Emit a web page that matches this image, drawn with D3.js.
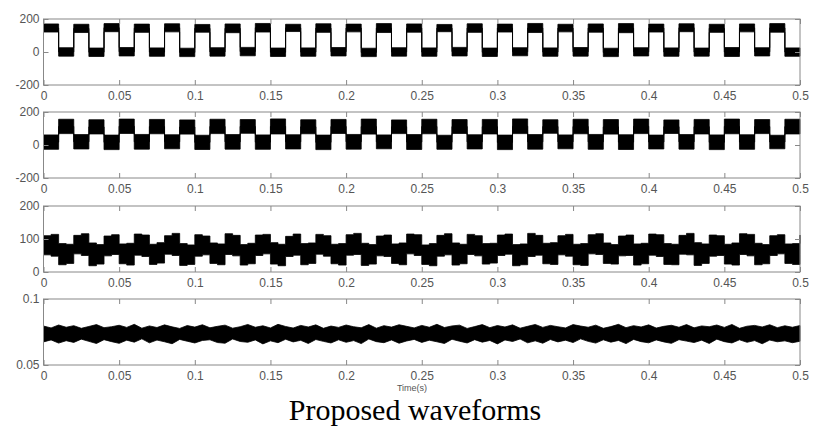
<!DOCTYPE html>
<html>
<head>
<meta charset="utf-8">
<script src="https://cdn.jsdelivr.net/npm/d3@7"></script>
<style>
  body { margin: 0; background: #fff; }
  svg { display: block; background: #fff; }
  .tick text { font-family: "Liberation Sans", Arial, sans-serif; font-size: 12px; fill: #555; }
  .tick line { stroke: #888; }
</style>
</head>
<body>
<svg id="chart" width="814" height="433"></svg>
<script>
// Axis ticks
const xTicks = [0, 0.05, 0.1, 0.15, 0.2, 0.25, 0.3, 0.35, 0.4, 0.45, 0.5];
const yTicks1 = [-200, 0, 200];
const yTicks2 = [-200, 0, 200];
const yTicks3 = [0, 100, 200];
const yTicks4 = [0.05, 0.1];

// Time step of the sampled envelopes (s)
const halfPeriod = 0.01;   // plots 1 and 2: one band per half period
const sampleStep = 0.005;  // plots 3 and 4

// Plot 1: upper / lower edge of the band in each half period (high first)
const wave1Top = [
  170, 26, 168, 24, 172, 27, 169, 25, 171, 23, 167, 26, 170, 28, 173, 24, 168, 25, 171, 27,
  169, 23, 172, 26, 170, 25, 167, 28, 171, 24, 169, 26, 173, 25, 168, 27, 170, 23, 172, 26,
  169, 25, 171, 24, 168, 27, 170, 26, 172, 25
];
const wave1Bottom = [
  121, -25, 118, -27, 123, -24, 119, -26, 122, -28, 120, -25, 117, -23, 121, -27, 124, -26, 119, -24,
  122, -28, 118, -25, 120, -26, 123, -24, 119, -27, 121, -23, 118, -26, 122, -25, 120, -28, 117, -24,
  121, -26, 123, -25, 119, -27, 122, -24, 120, -26, 118, -25
];

// Plot 2: same, low level first
const wave2Top = [
  61, 156, 63, 153, 60, 157, 64, 155, 62, 152, 59, 156, 63, 154, 61, 158, 62, 153, 60, 155,
  64, 157, 61, 152, 63, 156, 59, 154, 62, 155, 60, 158, 63, 153, 61, 156, 64, 154, 62, 157,
  60, 152, 63, 155, 61, 157, 62, 154, 59, 156
];
const wave2Bottom = [
  -26, 69, -24, 67, -28, 70, -25, 68, -23, 66, -27, 69, -25, 71, -26, 67, -24, 68, -28, 70,
  -25, 66, -23, 69, -27, 68, -26, 70, -24, 67, -28, 69, -25, 71, -23, 68, -26, 66, -27, 69,
  -24, 70, -25, 67, -28, 68, -26, 69, -23, 67
];

// Plot 3: envelope every 5 ms
const wave3Top = [
  110, 114, 86, 84, 111, 116, 88, 83, 109, 113, 85, 87, 115, 112, 84, 89, 110, 117, 86, 82,
  113, 109, 88, 85, 116, 111, 83, 87, 112, 114, 89, 84, 108, 115, 86, 88, 114, 110, 84, 86,
  113, 117, 87, 83, 109, 112, 85, 88, 115, 113, 82, 86, 111, 116, 88, 84, 114, 110, 86, 87,
  112, 115, 83, 85, 117, 111, 87, 89, 110, 114, 84, 86, 113, 116, 88, 83, 109, 112, 85, 87,
  115, 113, 86, 84, 111, 117, 89, 85, 112, 110, 84, 88, 116, 114, 87, 83, 110, 113, 85, 86,
  112
];
const wave3Bottom = [
  52, 48, 22, 26, 55, 50, 19, 24, 49, 53, 25, 21, 51, 47, 23, 27, 54, 50, 20, 23,
  48, 52, 26, 22, 53, 49, 21, 25, 50, 55, 24, 19, 47, 51, 22, 26, 54, 48, 25, 21,
  51, 53, 20, 24, 49, 47, 26, 22, 55, 50, 23, 19, 48, 52, 21, 25, 53, 49, 24, 27,
  50, 54, 19, 22, 47, 51, 25, 23, 52, 48, 22, 20, 55, 53, 26, 24, 49, 50, 21, 25,
  51, 47, 23, 22, 54, 52, 20, 26, 48, 50, 24, 21, 53, 49, 22, 25, 50, 55, 26, 23,
  52
];

// Plot 4: envelope every 5 ms
const wave4Top = [
  0.0795, 0.0781, 0.0803, 0.0786, 0.0798, 0.0778, 0.0792, 0.0806, 0.0783, 0.0790,
  0.0801, 0.0785, 0.0808, 0.0779, 0.0796, 0.0784, 0.0804, 0.0789, 0.0777, 0.0799,
  0.0787, 0.0805, 0.0782, 0.0793, 0.0802, 0.0779, 0.0790, 0.0807, 0.0786, 0.0797,
  0.0781, 0.0808, 0.0792, 0.0780, 0.0800, 0.0788, 0.0804, 0.0778, 0.0795, 0.0785,
  0.0803, 0.0790, 0.0782, 0.0806, 0.0779, 0.0798, 0.0787, 0.0805, 0.0793, 0.0781,
  0.0800, 0.0786, 0.0808, 0.0784, 0.0796, 0.0802, 0.0777, 0.0791, 0.0806, 0.0783,
  0.0799, 0.0788, 0.0804, 0.0779, 0.0793, 0.0807, 0.0785, 0.0800, 0.0790, 0.0781,
  0.0806, 0.0795, 0.0786, 0.0802, 0.0778, 0.0791, 0.0808, 0.0783, 0.0798, 0.0788,
  0.0804, 0.0780, 0.0793, 0.0801, 0.0786, 0.0806, 0.0782, 0.0796, 0.0790, 0.0803,
  0.0785, 0.0807, 0.0778, 0.0794, 0.0800, 0.0788, 0.0805, 0.0783, 0.0797, 0.0786,
  0.0799
];
const wave4Bottom = [
  0.0675, 0.0690, 0.0666, 0.0684, 0.0671, 0.0696, 0.0679, 0.0663, 0.0692, 0.0677,
  0.0664, 0.0688, 0.0673, 0.0698, 0.0668, 0.0689, 0.0676, 0.0661, 0.0694, 0.0680,
  0.0667, 0.0686, 0.0691, 0.0670, 0.0665, 0.0697, 0.0678, 0.0672, 0.0690, 0.0660,
  0.0683, 0.0669, 0.0695, 0.0675, 0.0687, 0.0663, 0.0693, 0.0679, 0.0667, 0.0691,
  0.0672, 0.0685, 0.0662, 0.0697, 0.0677, 0.0669, 0.0690, 0.0665, 0.0682, 0.0694,
  0.0671, 0.0688, 0.0676, 0.0663, 0.0695, 0.0680, 0.0667, 0.0692, 0.0673, 0.0686,
  0.0660, 0.0690, 0.0678, 0.0697, 0.0668, 0.0683, 0.0665, 0.0693, 0.0675, 0.0688,
  0.0670, 0.0698, 0.0679, 0.0666, 0.0691, 0.0673, 0.0686, 0.0662, 0.0694, 0.0677,
  0.0668, 0.0690, 0.0675, 0.0664, 0.0692, 0.0681, 0.0670, 0.0688, 0.0663, 0.0696,
  0.0677, 0.0667, 0.0691, 0.0672, 0.0685, 0.0661, 0.0689, 0.0676, 0.0683, 0.0669,
  0.0680
];

const xLabel = "Time(s)";
const title = "Proposed waveforms";

// SVG setup
const svg = d3.select("#chart");
const plotLeft = 43.5, plotRight = 800;
const panelTops = [19, 112, 206, 299];
const panelH = 66;
const tick = 5;

const x = d3.scaleLinear().domain([0, 0.5]).range([plotLeft, plotRight]);

// build {t, hi, lo} points from an envelope pair
function toPoints(top, bottom, dt, closeEnd) {
  const pts = top.map((v, i) => ({ t: i * dt, hi: v, lo: bottom[i] }));
  if (closeEnd) {
    const last = pts[pts.length - 1];
    pts.push({ t: top.length * dt, hi: last.hi, lo: last.lo });
  }
  return pts;
}

const panels = [
  { yTicks: yTicks1, pts: toPoints(wave1Top, wave1Bottom, halfPeriod, true), curve: d3.curveStepAfter, link: true },
  { yTicks: yTicks2, pts: toPoints(wave2Top, wave2Bottom, halfPeriod, true), curve: d3.curveStepAfter, link: true },
  { yTicks: yTicks3, pts: toPoints(wave3Top, wave3Bottom, sampleStep, false), curve: d3.curveStepAfter, link: false },
  { yTicks: yTicks4, pts: toPoints(wave4Top, wave4Bottom, sampleStep, false), curve: d3.curveLinear, link: false }
];

panels.forEach((p, k) => {
  const top = panelTops[k];
  const bottom = top + panelH;
  const y = d3.scaleLinear().domain(d3.extent(p.yTicks)).range([bottom, top]);
  const g = svg.append("g");

  // waveform band
  g.append("path")
    .datum(p.pts)
    .attr("d", d3.area().x(d => x(d.t)).y0(d => y(d.lo)).y1(d => y(d.hi)).curve(p.curve))
    .attr("fill", "#000")
    .attr("stroke", "#000")
    .attr("stroke-width", 0.8);

  // thin vertical links between the levels
  if (p.link) {
    g.append("path")
      .datum(p.pts)
      .attr("d", d3.line().x(d => x(d.t)).y(d => y((d.hi + d.lo) / 2)).curve(d3.curveStepAfter))
      .attr("fill", "none")
      .attr("stroke", "#000")
      .attr("stroke-width", 1);
  }

  // box
  g.append("rect")
    .attr("x", plotLeft).attr("y", top)
    .attr("width", plotRight - plotLeft).attr("height", panelH)
    .attr("fill", "none").attr("stroke", "#888").attr("stroke-width", 1);

  // axes (ticks point inward, MATLAB style)
  g.append("g")
    .attr("transform", `translate(0,${bottom})`)
    .call(d3.axisBottom(x).tickValues(xTicks).tickFormat(d => String(d)).tickSizeInner(-tick).tickSizeOuter(0).tickPadding(6))
    .call(a => a.select(".domain").remove());

  g.append("g")
    .attr("transform", `translate(0,${top})`)
    .call(d3.axisTop(x).tickValues(xTicks).tickFormat("").tickSizeInner(-tick).tickSizeOuter(0))
    .call(a => a.select(".domain").remove());

  g.append("g")
    .attr("transform", `translate(${plotLeft},0)`)
    .call(d3.axisLeft(y).tickValues(p.yTicks).tickFormat(d => String(d)).tickSizeInner(-tick).tickSizeOuter(0).tickPadding(4))
    .call(a => a.select(".domain").remove());

  g.append("g")
    .attr("transform", `translate(${plotRight},0)`)
    .call(d3.axisRight(y).tickValues(p.yTicks).tickFormat("").tickSizeInner(-tick).tickSizeOuter(0))
    .call(a => a.select(".domain").remove());
});

// x label
svg.append("text")
  .attr("x", 412).attr("y", 391)
  .attr("text-anchor", "middle")
  .style("font-family", "'Liberation Sans', Arial, sans-serif")
  .style("font-size", "9px")
  .style("fill", "#555")
  .text(xLabel);

// caption
svg.append("text")
  .attr("x", 415).attr("y", 420)
  .attr("text-anchor", "middle")
  .style("font-family", "'Liberation Serif', 'Times New Roman', serif")
  .style("font-size", "30px")
  .style("fill", "#000")
  .text(title);
</script>
</body>
</html>
